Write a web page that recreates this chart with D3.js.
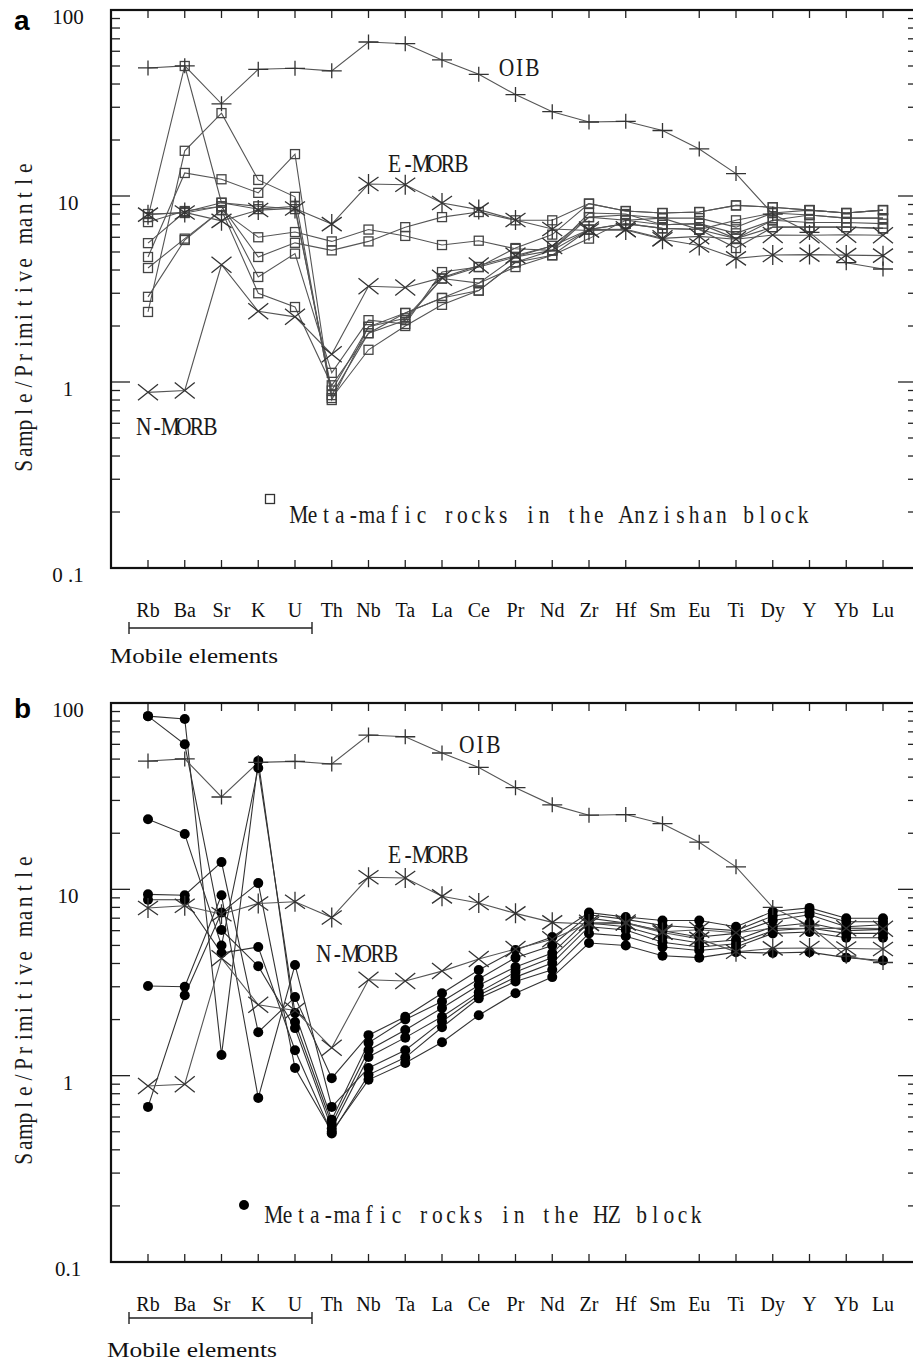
<!DOCTYPE html>
<html><head><meta charset="utf-8">
<script src="https://cdn.jsdelivr.net/npm/d3@7"></script>
<style>body{margin:0;background:#fff} svg{display:block}</style>
</head><body>
<svg id="chart" width="913" height="1361"></svg>
<script>
// ---------- data ----------
const elements = ["Rb","Ba","Sr","K","U","Th","Nb","Ta","La","Ce","Pr","Nd","Zr","Hf","Sm","Eu","Ti","Dy","Y","Yb","Lu"];
const mobileElements = ["Rb","Ba","Sr","K","U"];
const yTickValues = [100, 10, 1, 0.1];
const yTickLabelsA = ["100", "10", "1", "0 .1"];
const yTickLabelsB = ["100", "10", "1", "0.1"];

const oib   = [48.8,50.1,31.3,48,48.6,47.1,67.3,65.9,53.9,45.1,35.1,28.4,25,25.2,22.5,17.9,13.2,8.0,6.37,4.38,4.05];
const emorb = [7.94,8.16,7.35,8.4,8.57,7.06,11.6,11.5,9.17,8.45,7.43,6.65,6.52,6.57,5.86,5.42,4.62,4.82,4.84,4.81,4.78];
const nmorb = [0.88,0.90,4.27,2.4,2.24,1.41,3.27,3.22,3.64,4.23,4.78,5.39,6.61,6.63,5.92,6.07,5.85,6.17,6.15,6.19,6.15];

// Meta-mafic rocks in the Anzishan block (panel a)
const anzishan1 = [7.7,50,9.2,8.5,8.8,0.85,1.83,2.15,3.6,4.15,4.7,5.1,7.7,7.9,7.6,7.6,6.8,8.1,7.9,7.6,7.6];
const anzishan2 = [2.38,17.5,27.9,12.2,9.9,0.82,1.49,2.0,2.6,3.1,4.4,4.8,6.6,7.1,6.7,6.6,5.25,6.8,6.8,6.8,6.7];
const anzishan3 = [4.70,13.3,12.3,10.4,16.8,0.80,1.98,2.35,2.83,3.4,4.15,4.8,5.9,7.4,7.0,7.1,5.9,7.4,7.2,7.2,7.1];
const anzishan4 = [7.24,8.3,8.8,3.67,4.9,1.12,2.15,2.05,3.9,4.15,5.25,6.2,9.1,8.3,8.1,8.2,8.9,8.7,8.4,8.1,8.4];
const anzishan5 = [2.87,5.8,8.4,3.0,2.53,0.96,1.83,2.35,2.83,3.1,4.4,5.1,8.1,8.0,7.0,7.1,6.3,7.4,7.9,7.6,7.6];
const anzishan6 = [5.58,8.2,9.2,8.8,8.5,0.9,1.98,2.2,3.6,3.4,4.7,5.4,7.7,7.4,7.6,6.6,7.4,8.1,8.4,8.1,8.4];
const anzishan7 = [4.10,5.9,8.4,6.0,6.4,5.7,6.6,6.1,5.45,5.75,5.2,5.1,6.6,7.1,6.7,6.6,5.9,6.8,6.8,6.8,6.7];
const anzishan8 = [8.0,8.1,8.8,4.7,5.6,5.1,5.7,6.8,7.7,8.2,7.4,7.4,9.1,8.3,8.1,8.2,8.9,8.7,8.4,8.1,8.4];
const anzishanSamples = [anzishan1,anzishan2,anzishan3,anzishan4,anzishan5,anzishan6,anzishan7,anzishan8];

// Meta-mafic rocks in the HZ block (panel b)
const hz1 = [85,82,1.29,48.9,1.94,0.55,1.37,1.76,2.31,3.06,3.83,4.55,7.0,6.6,6.0,5.55,5.8,6.8,7.3,6.3,6.45];
const hz2 = [85,60,6.05,3.87,1.80,0.52,1.26,1.6,2.07,2.8,3.6,4.3,6.6,6.3,5.55,5.15,5.35,6.3,6.6,6.0,6.1];
const hz3 = [23.8,19.8,5.0,44.8,2.17,0.58,1.50,2.0,2.5,3.3,4.3,5.0,7.3,6.9,6.4,6.2,6.0,7.2,7.6,6.7,6.7];
const hz4 = [9.4,9.3,14.0,1.71,2.64,0.97,1.65,2.07,2.77,3.69,4.72,5.55,7.5,7.1,6.8,6.8,6.3,7.6,7.95,7.0,7.0];
const hz5 = [8.8,8.8,4.55,4.9,1.37,0.49,1.01,1.25,1.82,2.6,3.2,3.7,5.8,5.6,4.9,4.7,4.9,5.8,5.9,5.5,5.5];
const hz6 = [3.03,3.0,9.3,0.76,3.93,0.68,1.10,1.37,1.95,2.7,3.38,4.02,6.3,6.05,5.2,4.9,5.1,6.0,6.2,5.8,5.8];
const hz7 = [0.68,2.7,7.5,10.8,1.10,0.50,0.95,1.17,1.51,2.11,2.77,3.38,5.15,5.0,4.4,4.3,4.6,4.55,4.6,4.3,4.15];
const hzSamples = [hz1,hz2,hz3,hz4,hz5,hz6,hz7];

// ---------- drawing ----------
const svg = d3.select("#chart");
const SERIF = "'Liberation Serif','Times New Roman',serif";
const left = 111, right = 917;

const x = d3.scalePoint().domain(elements).range([148, 883]);

const markerPaths = {
  plus: "M-10,0H10M0,-7.5V7.5",
  cross: "M-10,-8L10,8M-10,8L10,-8",
  star: "M-10,-7L10,7M-10,7L10,-7M0,-10V10"
};

// fixed-pitch serif text (imitates the half-width SimSun look of the original)
function monoText(parent, str, x0, y0, pitch, fontSize, sx, rot) {
  const g = parent.append("g")
    .attr("transform", `translate(${x0},${y0})${rot ? " rotate(-90)" : ""} scale(${sx},1)`);
  const chars = Array.from(str);
  g.append("text")
    .attr("x", chars.map((c, i) => (pitch * (i + 0.5)) / sx).join(" "))
    .attr("y", 0)
    .attr("text-anchor", "middle")
    .attr("font-family", SERIF).attr("font-size", fontSize).attr("fill", "#1a1a1a")
    .text(str);
}

function panel(cfg) {
  const g = svg.append("g");
  const y = d3.scaleLog().domain([0.1, 100]).range([cfg.bottom, cfg.top]);
  const line = d3.line().x((d, i) => x(elements[i])).y(d => y(d));

  const minor = [];
  [0.1, 1, 10].forEach(dec => { for (let m = 2; m <= 9; m++) minor.push(dec * m); });
  const tickLines = (data, x1, x2) => g.append("g").selectAll("line").data(data).join("line")
    .attr("x1", x1).attr("x2", x2).attr("y1", d => y(d)).attr("y2", d => y(d))
    .attr("stroke", "#222").attr("stroke-width", 1.3);
  tickLines(minor, left, left + 9);
  tickLines(minor, right - 9, right);
  tickLines([1, 10], left, left + 19);
  tickLines([1, 10], right - 19, right);

  const xt = elements.filter(e => e !== "Sm");
  g.append("g").selectAll("line").data(xt).join("line")
    .attr("x1", d => x(d)).attr("x2", d => x(d)).attr("y1", cfg.top).attr("y2", cfg.top + 8)
    .attr("stroke", "#222").attr("stroke-width", 1.3);
  g.append("g").selectAll("line").data(xt).join("line")
    .attr("x1", d => x(d)).attr("x2", d => x(d)).attr("y1", cfg.bottom - 8).attr("y2", cfg.bottom)
    .attr("stroke", "#222").attr("stroke-width", 1.3);

  g.append("rect").attr("x", left).attr("y", cfg.top).attr("width", right - left)
    .attr("height", cfg.bottom - cfg.top).attr("fill", "none").attr("stroke", "#111").attr("stroke-width", 2.2);

  g.append("g").selectAll("text").data(yTickValues).join("text")
    .attr("x", 68).attr("y", d => y(d) + 14).attr("text-anchor", "middle")
    .attr("font-family", SERIF).attr("font-size", 21).attr("fill", "#111")
    .text((d, i) => cfg.yLabels[i]);

  g.append("g").selectAll("text").data(elements).join("text")
    .attr("x", d => x(d)).attr("y", cfg.bottom + 49).attr("text-anchor", "middle")
    .attr("font-family", SERIF).attr("font-size", 20).attr("fill", "#111")
    .text(d => d);

  const bx0 = x(mobileElements[0]) - 19, bx1 = x(mobileElements[mobileElements.length - 1]) + 17;
  const by = cfg.bottom + cfg.bracketOff;
  g.append("path").attr("d", `M${bx0},${by - 6}V${by + 6}M${bx0},${by}H${bx1}M${bx1},${by - 6}V${by + 6}`)
    .attr("stroke", "#222").attr("stroke-width", 1.4).attr("fill", "none");
  g.append("text").attr("x", cfg.mobX).attr("y", cfg.mobY).attr("font-family", SERIF)
    .attr("font-size", 22).attr("textLength", cfg.mobW).attr("lengthAdjust", "spacingAndGlyphs")
    .attr("fill", "#111").text("Mobile elements");

  monoText(g, "Sample/Primitive mantle", 32, cfg.top + 307 + 155.5, 13.52, 25, 0.86, true);

  g.append("text").attr("x", 14).attr("y", cfg.letterY).attr("font-family", "'Liberation Sans',Arial,sans-serif")
    .attr("font-weight", "bold").attr("font-size", 28).attr("fill", "#000").text(cfg.letter);

  cfg.samples.forEach(s => {
    g.append("path").attr("d", line(s)).attr("fill", "none")
      .attr("stroke", cfg.lineColor).attr("stroke-width", 1.1);
  });
  const refs = [{v: oib, m: "plus"}, {v: emorb, m: "star"}, {v: nmorb, m: "cross"}];
  refs.forEach(r => {
    g.append("path").attr("d", line(r.v)).attr("fill", "none").attr("stroke", "#555").attr("stroke-width", 1.1);
  });
  cfg.samples.forEach(s => {
    const mg = g.append("g");
    if (cfg.marker === "square") {
      mg.selectAll("rect").data(s).join("rect")
        .attr("x", (d, i) => x(elements[i]) - 4.5).attr("y", d => y(d) - 4.5)
        .attr("width", 9).attr("height", 9).attr("fill", "none")
        .attr("stroke", "#444").attr("stroke-width", 1.3);
    } else {
      mg.selectAll("circle").data(s).join("circle")
        .attr("cx", (d, i) => x(elements[i])).attr("cy", d => y(d)).attr("r", 5)
        .attr("fill", "#000");
    }
  });
  refs.forEach(r => {
    g.append("g").selectAll("path").data(r.v).join("path")
      .attr("transform", (d, i) => `translate(${x(elements[i])},${y(d)})`)
      .attr("d", markerPaths[r.m]).attr("fill", "none").attr("stroke", "#333").attr("stroke-width", 1.3);
  });

  cfg.notes.forEach(n => monoText(g, n.t, n.x, n.y, n.w / n.t.length, 25, 0.86, false));

  if (cfg.marker === "square") {
    g.append("rect").attr("x", cfg.legX - 4.5).attr("y", cfg.legY - 4.5).attr("width", 9).attr("height", 9)
      .attr("fill", "none").attr("stroke", "#333").attr("stroke-width", 1.3);
  } else {
    g.append("circle").attr("cx", cfg.legX).attr("cy", cfg.legY).attr("r", 5).attr("fill", "#000");
  }
  monoText(g, cfg.legText, cfg.legTextX, cfg.legTextY, cfg.legW / cfg.legText.length, 25, 0.86, false);
}

panel({
  top: 10, bottom: 568, samples: anzishanSamples, marker: "square", lineColor: "#555",
  yLabels: yTickLabelsA, letter: "a", letterY: 30,
  bracketOff: 60, mobX: 110, mobY: 663, mobW: 168,
  notes: [
    {t: "OIB", x: 500, y: 76, w: 39},
    {t: "E-MORB", x: 388, y: 172, w: 80},
    {t: "N-MORB", x: 137, y: 435, w: 80}
  ],
  legX: 270, legY: 499, legTextX: 292, legTextY: 523, legW: 518,
  legText: "Meta-mafic rocks in the Anzishan block"
});

panel({
  top: 703, bottom: 1262, samples: hzSamples, marker: "circle", lineColor: "#333",
  yLabels: yTickLabelsB, letter: "b", letterY: 718,
  bracketOff: 56, mobX: 107, mobY: 1357, mobW: 170,
  notes: [
    {t: "OIB", x: 460, y: 753, w: 40},
    {t: "E-MORB", x: 388, y: 863, w: 80},
    {t: "N-MORB", x: 317, y: 962, w: 81}
  ],
  legX: 244, legY: 1205, legTextX: 267, legTextY: 1223, legW: 436,
  legText: "Meta-mafic rocks in the HZ block"
});
</script>
</body></html>
